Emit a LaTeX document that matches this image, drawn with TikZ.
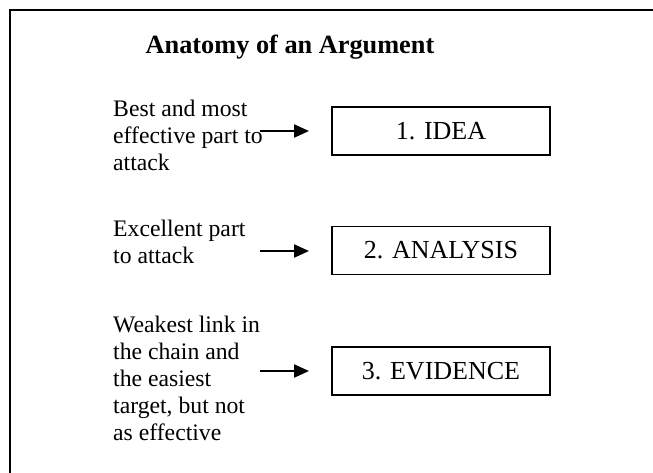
\documentclass[tikz,border=0pt]{standalone}
\usepackage{fontspec}
\setmainfont{Liberation Serif}
\usepackage{tikz}
\usetikzlibrary{positioning,arrows.meta}

\tikzset{
    part/.style={draw, line width=1.5pt, minimum width=218pt, minimum height=48pt, inner sep=0pt,
        font=\fontsize{26}{30}\selectfont},
    note/.style={anchor=west, align=left, inner sep=0pt, font=\fontsize{23.7}{27}\selectfont},
    pointer/.style={line width=2.2pt, -{Triangle[length=15pt,width=13pt]}}
}

\begin{document}
\begin{tikzpicture}[x=1pt, y=-1pt]
    \useasboundingbox (0,0) rectangle (653,473);
    % Frame
    \draw [line width=2pt] (10,473) |- (653,10);
    % Title
    \node (title) [anchor=base, font=\fontsize{26.3}{30}\selectfont\bfseries] at (290,54) {Anatomy of an Argument};
    % Parts of the argument
    \node (idea) [part] at (441,131) {1. IDEA};
    \node (analysis) [part] at (441,250.5) {2. ANALYSIS};
    \node (evidence) [part] at (441,371) {3. EVIDENCE};
    % Notes
    \node (n1) [note] at (113,135.2) {Best and most\\effective part to\\attack};
    \node (n2) [note] at (113,241.9) {Excellent part\\to attack};
    \node (n3) [note] at (113,378.4) {Weakest link in\\the chain and\\the easiest\\target, but not\\as effective};
    % Arrows
    \coordinate (s1) at (260,131); \coordinate (e1) at (309,131);
    \coordinate (s2) at (260,251); \coordinate (e2) at (309,251);
    \coordinate (s3) at (260,371); \coordinate (e3) at (309,371);
    \draw [pointer] (s1) -- (e1);
    \draw [pointer] (s2) -- (e2);
    \draw [pointer] (s3) -- (e3);
\end{tikzpicture}
\end{document}
